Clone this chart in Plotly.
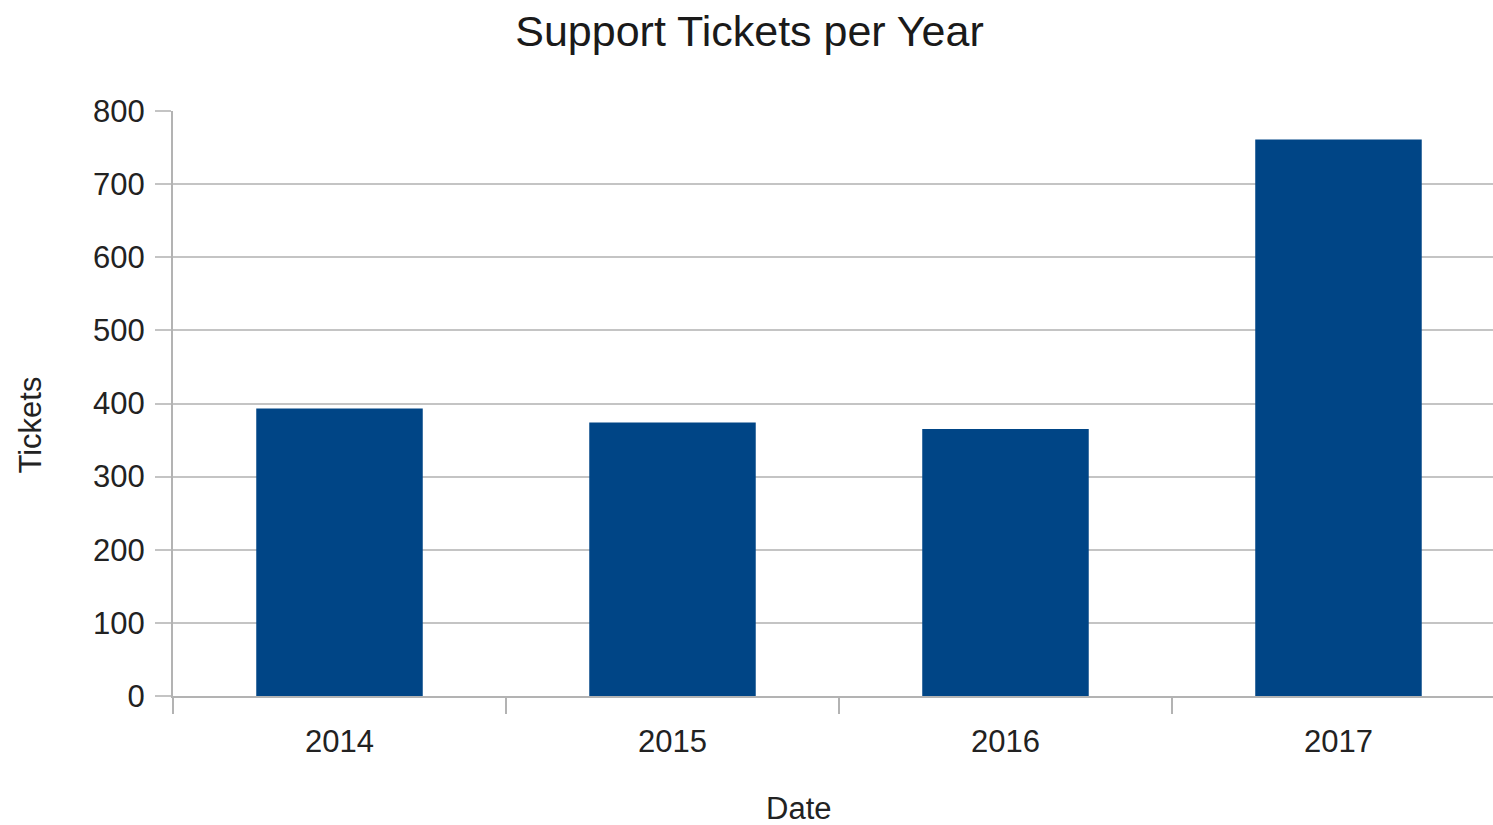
import plotly.graph_objects as go

years = ["2014", "2015", "2016", "2017"]
tickets = [393, 374, 365, 761]
y_ticks = [0, 100, 200, 300, 400, 500, 600, 700, 800]

FONT = "Liberation Sans, Arial, sans-serif"
GRID = "#c4c4c4"
AXIS = "#b3b3b3"

fig = go.Figure(
    go.Bar(
        x=years,
        y=tickets,
        width=0.5,
        marker=dict(color="#004586", line=dict(width=0)),
    )
)

fig.update_layout(
    width=1493,
    height=825,
    paper_bgcolor="white",
    plot_bgcolor="white",
    margin=dict(l=173, r=0, t=111, b=129),
    showlegend=False,
    title=dict(
        text="Support Tickets per Year",
        x=0.502,
        xanchor="center",
        y=0.962,
        yanchor="middle",
        font=dict(family=FONT, size=43, color="#1a1a1a"),
    ),
    font=dict(family=FONT, color="#222222"),
)

fig.update_xaxes(
    type="category",
    range=[-0.5, 3.464],
    showline=True,
    linecolor=AXIS,
    linewidth=2,
    ticks="outside",
    tickson="boundaries",
    ticklen=16,
    tickwidth=2,
    tickcolor=AXIS,
    ticklabelstandoff=17,
    tickfont=dict(family=FONT, size=31, color="#222222"),
    showgrid=False,
    zeroline=False,
)

fig.update_yaxes(
    range=[0, 800],
    tickvals=y_ticks,
    showline=True,
    linecolor=AXIS,
    linewidth=2,
    ticks="outside",
    ticklen=16,
    tickwidth=2,
    tickcolor=GRID,
    ticklabelstandoff=4,
    tickfont=dict(family=FONT, size=31, color="#222222"),
    showgrid=True,
    gridcolor=GRID,
    gridwidth=2,
    zeroline=False,
)

fig.add_annotation(
    text="Tickets", xref="paper", yref="paper", x=-0.108, y=0.463,
    textangle=-90, showarrow=False, xanchor="center", yanchor="middle",
    font=dict(family=FONT, size=31, color="#222222"),
)
fig.add_annotation(
    text="Date", xref="paper", yref="paper", x=0.474, y=-0.192,
    showarrow=False, xanchor="center", yanchor="middle",
    font=dict(family=FONT, size=31, color="#222222"),
)

fig.write_html(
    "out.html",
    config={"displayModeBar": False},
    post_script="document.body.style.margin='0';document.body.style.overflow='hidden';",
)
